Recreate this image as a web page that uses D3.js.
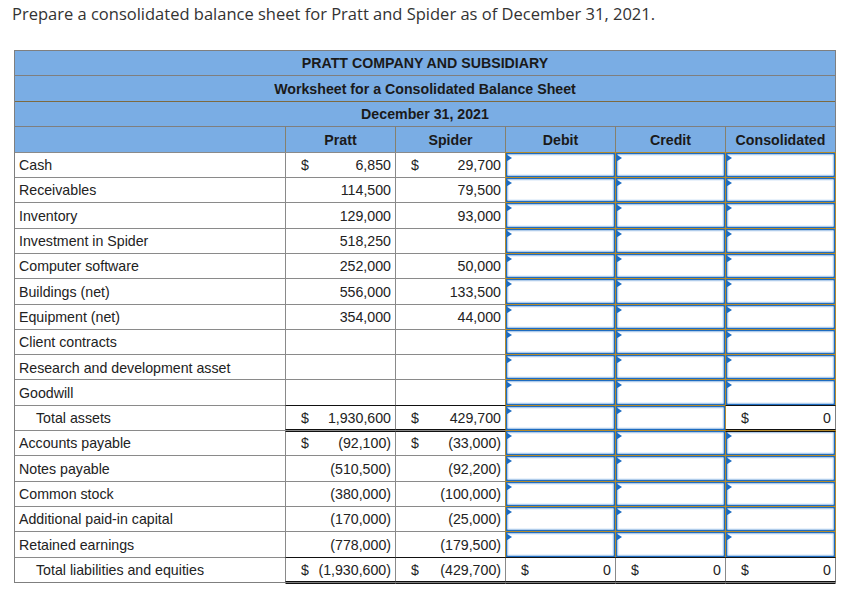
<!DOCTYPE html>
<html><head><meta charset="utf-8">
<script src="https://cdn.jsdelivr.net/npm/d3@7"></script>
<style>body{margin:0;background:#fff}svg{display:block}</style>
</head><body>
<svg id="c" width="847" height="592"></svg>
<script>
const pageTitle = "Prepare a consolidated balance sheet for Pratt and Spider as of December 31, 2021.";
const headerLines = ["PRATT COMPANY AND SUBSIDIARY", "Worksheet for a Consolidated Balance Sheet", "December 31, 2021"];
const columnHeaders = ["", "Pratt", "Spider", "Debit", "Credit", "Consolidated"];
const rowLabels = ["Cash","Receivables","Inventory","Investment in Spider","Computer software","Buildings (net)","Equipment (net)","Client contracts","Research and development asset","Goodwill","Total assets","Accounts payable","Notes payable","Common stock","Additional paid-in capital","Retained earnings","Total liabilities and equities"];
const prattValues = [6850,114500,129000,518250,252000,556000,354000,null,null,null,1930600,-92100,-510500,-380000,-170000,-778000,-1930600];
const spiderValues = [29700,79500,93000,null,50000,133500,44000,null,null,null,429700,-33000,-92200,-100000,-25000,-179500,-429700];
const totalRows = ["Total assets","Total liabilities and equities"];
const dollarRows = ["Cash","Total assets","Accounts payable","Total liabilities and equities"];
// computed worksheet totals shown (all zero)
const debitTotals = {"Total liabilities and equities": 0};
const creditTotals = {"Total liabilities and equities": 0};
const consolidatedTotals = {"Total assets": 0, "Total liabilities and equities": 0};

const svg = d3.select("#c");
const FONT = "'Liberation Sans', Arial, sans-serif";
const FS = 14.2;
const colEdges = [14.5, 285.5, 395.5, 505.5, 615.5, 725.5, 835.5];
const xCol = d3.scaleOrdinal().domain(columnHeaders.map((d,i)=>i)).range(colEdges.slice(0,6));
const wCol = i => colEdges[i+1]-colEdges[i];
const headerY = d3.scaleBand().domain(d3.range(4)).range([50.5, 152.3]);
const rowY = d3.scaleBand().domain(rowLabels).range([152.3, 582.3]);
const L = 14.5, R = 835.5;
const px = v => Math.round(v - 0.5) + 0.5;
const fmt = d3.format(",");
const fmtVal = v => v < 0 ? "(" + fmt(-v) + ")" : fmt(v);

// page title
svg.append("text").attr("x", 12).attr("y", 19.5)
  .attr("font-family", "'Open Sans', Lato, sans-serif").attr("font-size", 16.5)
  .attr("fill", "#333").text(pageTitle);

// header background
svg.append("rect").attr("x", L).attr("y", px(headerY(0))).attr("width", R-L).attr("height", px(152.3)-px(headerY(0)))
  .attr("fill", "#7aade4");

const hdr = svg.append("g");
headerLines.forEach((t,i)=>{
  hdr.append("text").attr("x", (L+R)/2).attr("y", headerY(i)+headerY.bandwidth()/2+5.2)
    .attr("text-anchor","middle").attr("font-family",FONT).attr("font-size",FS).attr("font-weight","bold")
    .attr("fill","#1a1a1a").text(t);
});
columnHeaders.forEach((t,i)=>{
  if(!t) return;
  hdr.append("text").attr("x", xCol(i)+wCol(i)/2).attr("y", headerY(3)+headerY.bandwidth()/2+5.2)
    .attr("text-anchor","middle").attr("font-family",FONT).attr("font-size",FS).attr("font-weight","bold")
    .attr("fill","#1a1a1a").text(t);
});
// header lines
[1,2,3].forEach(i=>{
  hdr.append("line").attr("x1",L).attr("x2",R).attr("y1",px(headerY(i))).attr("y2",px(headerY(i)))
    .attr("stroke", i===2 ? "#7d6a40" : "#7f7f7f");
});
d3.range(1,6).forEach(i=>{
  hdr.append("line").attr("x1",xCol(i)).attr("x2",xCol(i)).attr("y1",px(headerY(3))).attr("y2",px(152.3))
    .attr("stroke","#86806c");
});

// body grid
const grid = svg.append("g");
rowLabels.forEach(r=>{
  grid.append("line").attr("x1",L).attr("x2",R).attr("y1",px(rowY(r)+rowY.bandwidth())).attr("y2",px(rowY(r)+rowY.bandwidth()))
    .attr("stroke","#8a8a8a");
});
grid.append("line").attr("x1",L).attr("x2",R).attr("y1",px(152.3)).attr("y2",px(152.3)).attr("stroke","#8a8a8a");
colEdges.forEach(x=>{
  grid.append("line").attr("x1",x).attr("x2",x).attr("y1",px(152.3)).attr("y2",px(582.3)).attr("stroke","#8a8a8a");
});
// outer border
svg.append("rect").attr("x",L).attr("y",px(headerY(0))).attr("width",R-L).attr("height",px(582.3)-px(headerY(0)))
  .attr("fill","none").attr("stroke","#7f7f7f");

// input cells
const inputs = [];
rowLabels.forEach(r=>{
  if(r !== "Total liabilities and equities"){ inputs.push([3,r]); inputs.push([4,r]); }
  if(!(r in consolidatedTotals)) inputs.push([5,r]);
});
const inp = svg.append("g");
inputs.forEach(([c,r])=>{
  const x0 = xCol(c), y0 = px(rowY(r)), w = wCol(c), h = px(rowY(r)+rowY.bandwidth()) - y0;
  inp.append("rect").attr("x",x0).attr("y",y0).attr("width",w).attr("height",h)
    .attr("fill","none").attr("stroke","#b48a2c").attr("stroke-width",1);
  inp.append("rect").attr("x",x0+1.25).attr("y",y0+1.25).attr("width",w-2.5).attr("height",h-2.5)
    .attr("fill","#fff").attr("stroke","#1e6cc0").attr("stroke-width",1.5);
  inp.append("rect").attr("x",x0+2.5).attr("y",y0+2.5).attr("width",w-5).attr("height",h-5)
    .attr("fill","none").attr("stroke","#d3e4f6").attr("stroke-width",1);
  inp.append("path").attr("d",`M${x0+1},${y0+2} L${x0+6.5},${y0+5.5} L${x0+1},${y0+9} Z`).attr("fill","#1e6cc0");
});

// labels
const body = svg.append("g").attr("font-family",FONT).attr("font-size",FS).attr("fill","#222");
rowLabels.forEach(r=>{
  const yb = rowY(r)+rowY.bandwidth()/2+5.2;
  body.append("text").attr("x", totalRows.includes(r) ? 36 : 19).attr("y", yb).text(r);
});
function valueCell(c, r, v, dollar){
  const yb = rowY(r)+rowY.bandwidth()/2+5.2;
  if(dollar) body.append("text").attr("x", xCol(c)+15.5).attr("y", yb).text("$");
  body.append("text").attr("x", xCol(c)+wCol(c)-4.5).attr("y", yb).attr("text-anchor","end").text(fmtVal(v));
}
rowLabels.forEach((r,i)=>{
  const dollar = dollarRows.includes(r);
  if(prattValues[i] !== null) valueCell(1, r, prattValues[i], dollar);
  if(spiderValues[i] !== null) valueCell(2, r, spiderValues[i], dollar);
  if(r in debitTotals) valueCell(3, r, debitTotals[r], true);
  if(r in creditTotals) valueCell(4, r, creditTotals[r], true);
  if(r in consolidatedTotals) valueCell(5, r, consolidatedTotals[r], true);
});

// total rules: single black above, double below
const rules = svg.append("g").attr("stroke","#111");
function totalRules(c, r){
  const x1 = xCol(c), x2 = xCol(c)+wCol(c);
  const yt = px(rowY(r)), yb = px(rowY(r)+rowY.bandwidth());
  rules.append("line").attr("x1",x1).attr("x2",x2).attr("y1",yt).attr("y2",yt);
  rules.append("line").attr("x1",x1).attr("x2",x2).attr("y1",yb-1).attr("y2",yb-1);
  rules.append("line").attr("x1",x1).attr("x2",x2).attr("y1",yb+1).attr("y2",yb+1);
}
totalRows.forEach(r=>{
  totalRules(1,r); totalRules(2,r);
  if(r in debitTotals) totalRules(3,r);
  if(r in creditTotals) totalRules(4,r);
  if(r in consolidatedTotals) totalRules(5,r);
});
</script>
</body></html>
